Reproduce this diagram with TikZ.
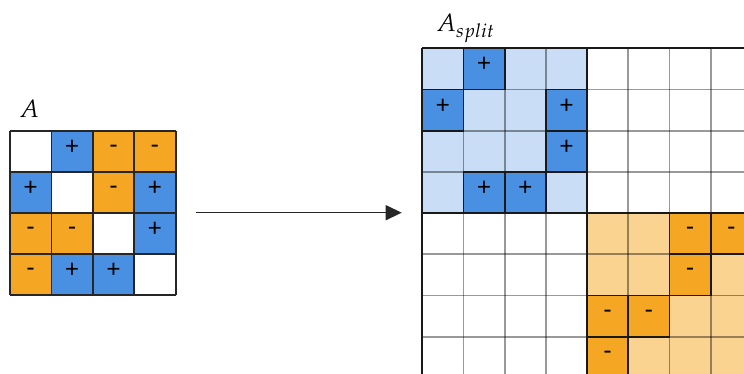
\documentclass[tikz,border=0pt]{standalone}
\usepackage{mathpazo}
\usepackage{fontspec}
\newfontfamily\signfont{Carlito}
\usetikzlibrary{arrows.meta}
\definecolor{cellblue}{RGB}{74,144,226}
\definecolor{cellorange}{RGB}{245,166,35}
\colorlet{lightblue}{cellblue!30}
\colorlet{lightorange}{cellorange!50}
\tikzset{
  sign/.style={font=\signfont\fontsize{26}{26}\selectfont, anchor=base, inner sep=0pt},
  label/.style={font=\fontsize{25}{30}\selectfont, anchor=base west, inner sep=0pt},
  gridA/.style={draw=black!85, line width=1.8pt},
  gridB/.style={draw=black, draw opacity=0.4, line width=1.8pt},
  blockline/.style={draw=black!90, line width=1.8pt},
  cellframe/.style={draw=black!90, line width=1.8pt},
  connector/.style={draw=black!85, line width=1.4pt, -{Triangle[length=16pt,width=15pt]}}
}
\begin{document}
\begin{tikzpicture}[x=1pt,y=-1pt]
\useasboundingbox (0,0) rectangle (744,374);

% ---------- matrix A (4x4) ----------
\def\ax{10}\def\ay{130.7}\def\aw{41.4}\def\ah{41}
\node[label] (lblA) at (19,117.3) {$A$};
\foreach \r/\c in {0/1,1/0,1/3,2/3,3/1,3/2}{
  \fill[cellblue] ({\ax+\c*\aw},{\ay+\r*\ah}) rectangle ++(\aw,\ah);
  \node[sign] (ap-\r-\c) at ({\ax+(\c+0.5)*\aw},{\ay+(\r+0.5)*\ah+3}) {+};
}
\foreach \r/\c in {0/2,0/3,1/2,2/0,2/1,3/0}{
  \fill[cellorange] ({\ax+\c*\aw},{\ay+\r*\ah}) rectangle ++(\aw,\ah);
  \node[sign] (am-\r-\c) at ({\ax+(\c+0.5)*\aw},{\ay+(\r+0.5)*\ah+2}) {-};
}
\foreach \i in {0,...,4}{
  \draw[gridA] ({\ax+\i*\aw},\ay) -- ({\ax+\i*\aw},{\ay+4*\ah});
  \draw[gridA] (\ax,{\ay+\i*\ah}) -- ({\ax+4*\aw},{\ay+\i*\ah});
}

% ---------- arrow ----------
\coordinate (arrS) at (196,212.7);
\coordinate (arrE) at (401.7,212.7);
\draw[connector] (arrS) -- (arrE);

% ---------- matrix A_split (8x8, cut by the page edge) ----------
\def\bx{422.3}\def\by{48.3}\def\bs{41.2}
\node[label] (lblS) at (436,32) {$A_{split}$};
\begin{scope}
\clip (0,0) rectangle (744,374);
\fill[lightblue] (\bx,\by) rectangle ++({4*\bs},{4*\bs});
\fill[lightorange] ({\bx+4*\bs},{\by+4*\bs}) rectangle ++({4*\bs},{4*\bs});
\foreach \r/\c in {0/1,1/0,1/3,2/3,3/1,3/2}{
  \fill[cellblue] ({\bx+\c*\bs},{\by+\r*\bs}) rectangle ++(\bs,\bs);
}
\foreach \r/\c in {4/6,4/7,5/6,6/4,6/5,7/4}{
  \fill[cellorange] ({\bx+\c*\bs},{\by+\r*\bs}) rectangle ++(\bs,\bs);
}
\foreach \i in {0,...,8}{
  \draw[gridB] ({\bx+\i*\bs},\by) -- ({\bx+\i*\bs},{\by+8*\bs});
  \draw[gridB] (\bx,{\by+\i*\bs}) -- ({\bx+8*\bs},{\by+\i*\bs});
}
\foreach \i in {0,4,8}{
  \draw[blockline] ({\bx+\i*\bs},\by) -- ({\bx+\i*\bs},{\by+8*\bs});
  \draw[blockline] (\bx,{\by+\i*\bs}) -- ({\bx+8*\bs},{\by+\i*\bs});
}
\foreach \r/\c in {0/1,1/0,1/3,2/3,3/1,3/2}{
  \draw[cellframe] ({\bx+\c*\bs},{\by+\r*\bs}) rectangle ++(\bs,\bs);
  \node[sign] (bp-\r-\c) at ({\bx+(\c+0.5)*\bs},{\by+(\r+0.5)*\bs+3}) {+};
}
\foreach \r/\c in {4/6,4/7,5/6,6/4,6/5,7/4}{
  \draw[cellframe] ({\bx+\c*\bs},{\by+\r*\bs}) rectangle ++(\bs,\bs);
  \node[sign] (bm-\r-\c) at ({\bx+(\c+0.5)*\bs},{\by+(\r+0.5)*\bs+2}) {-};
}
\end{scope}
\end{tikzpicture}
\end{document}
